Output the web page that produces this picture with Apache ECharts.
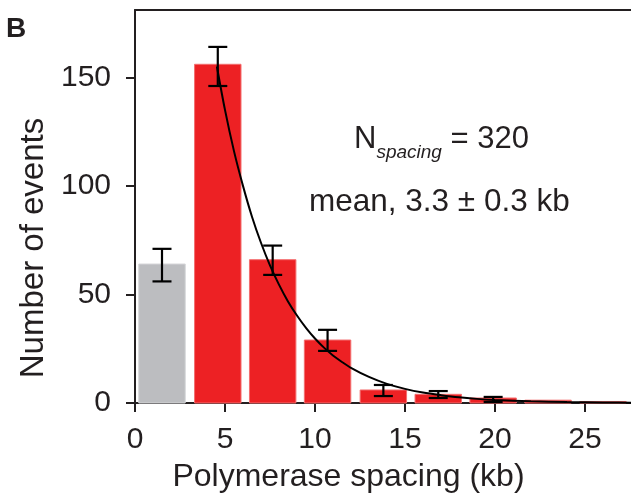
<!DOCTYPE html>
<html>
<head>
<meta charset="utf-8">
<script src="https://cdn.jsdelivr.net/npm/echarts@6/dist/echarts.min.js"></script>
<style>
  html, body { margin: 0; padding: 0; background: #fff; }
  #chart { width: 631px; height: 500px; }
</style>
</head>
<body>
<div id="chart"></div>
<script>
// Histogram of polymerase spacing (kb): bin centres and event counts
const binCenters = [1.5, 4.6, 7.65, 10.7, 13.8, 16.85, 19.9, 22.95, 26.0];
const counts     = [64, 156, 66, 29, 6, 4, 2.3, 1.3, 0.7];
// first bin is shown in grey (excluded from the fit)
const binIsFitted = [false, true, true, true, true, true, true, true, true];

// Error bars (low / high) for the first seven bins
const errCenters = [1.5, 4.6, 7.65, 10.7, 13.8, 16.85, 19.9];
const errLow     = [56, 146, 59, 24, 3.2, 2.3, 0.5];
const errHigh    = [71, 164, 72.5, 33.7, 8.3, 5.5, 2.8];

// Exponential fit curve (mean 3.3 kb), sampled points
const fitX = [4.55, 5, 5.5, 6, 6.5, 7, 7.5, 8, 8.5, 9, 9.5, 10, 10.5, 11, 11.5, 12, 13, 14, 15, 16, 17, 18, 19, 20, 22, 24, 26, 28];
const fitY = [155, 135, 116, 100, 85.8, 73.8, 63.4, 54.5, 46.8, 40.3, 34.6, 29.7, 25.5, 21.9, 18.9, 16.2, 12.0, 8.8, 6.5, 4.8, 3.6, 2.6, 1.9, 1.4, 0.8, 0.43, 0.24, 0.13];

// Axis ticks
const xTicks = [0, 5, 10, 15, 20, 25];
const yTicks = [0, 50, 100, 150];

const FONT = "'Liberation Sans', Arial, Helvetica, sans-serif";
const INK = '#231F20';
const RED = '#ED2124';
const GREY = '#BCBDC0';
const BAR_W = 2.58; // bar width in kb

const chart = echarts.init(document.getElementById('chart'), null, { renderer: 'canvas' });

const barData = binCenters.map((c, i) => [c, counts[i], binIsFitted[i] ? 1 : 0]);
const errData = errCenters.map((c, i) => [c, errLow[i], errHigh[i]]);
const fitData = fitX.map((x, i) => [x, fitY[i]]);

chart.setOption({
  animation: false,
  backgroundColor: '#fff',
  grid: { left: 135, right: 0, top: 10, bottom: 97 },
  xAxis: [{
    type: 'value',
    min: 0, max: 27.56,
    position: 'bottom',
    name: 'Polymerase spacing (kb)',
    nameLocation: 'middle',
    nameGap: 58,
    nameTextStyle: { fontFamily: FONT, fontSize: 32, color: INK, padding: [0, 69, 0, 0] },
    axisLine: { show: true, lineStyle: { color: INK, width: 2 } },
    axisTick: { show: true, length: 9, lineStyle: { color: INK, width: 2 }, customValues: xTicks },
    axisLabel: { fontFamily: FONT, fontSize: 30, color: INK, margin: 22, customValues: xTicks },
    splitLine: { show: false }
  }, {
    type: 'value',
    min: 0, max: 27.56,
    position: 'top',
    axisLine: { show: true, lineStyle: { color: INK, width: 2 } },
    axisTick: { show: false },
    axisLabel: { show: false },
    splitLine: { show: false }
  }],
  yAxis: {
    type: 'value',
    min: 0, max: 181,
    offset: 2,
    name: 'Number of events',
    nameLocation: 'middle',
    nameGap: 82,
    nameRotate: 90,
    nameTextStyle: { fontFamily: FONT, fontSize: 33, color: INK, padding: [0, 83, 0, 0] },
    axisLine: { show: true, lineStyle: { color: INK, width: 2 } },
    axisTick: { show: true, length: 9, lineStyle: { color: INK, width: 2 }, customValues: yTicks },
    axisLabel: { fontFamily: FONT, fontSize: 30, color: INK, margin: 22, customValues: yTicks },
    splitLine: { show: false }
  },
  series: [{
    type: 'custom',
    name: 'counts',
    data: barData,
    z: 2,
    renderItem(params, api) {
      const c = api.value(0), v = api.value(1), fitted = api.value(2);
      const p0 = api.coord([c - BAR_W / 2, v]);
      const p1 = api.coord([c + BAR_W / 2, 0]);
      return {
        type: 'rect',
        shape: { x: p0[0], y: p0[1], width: p1[0] - p0[0], height: p1[1] - p0[1] },
        style: {
          fill: fitted ? RED : GREY,
          stroke: fitted ? '#F36E6F' : '#D4D5D7',
          lineWidth: 1
        }
      };
    }
  }, {
    type: 'line',
    name: 'fit',
    data: fitData,
    smooth: 0.3,
    showSymbol: false,
    z: 3,
    lineStyle: { color: '#000', width: 2 }
  }, {
    type: 'custom',
    name: 'error',
    data: errData,
    z: 4,
    renderItem(params, api) {
      const c = api.value(0);
      const lo = api.coord([c, api.value(1)]);
      const hi = api.coord([c, api.value(2)]);
      const cap = 9.5;
      const st = { stroke: '#000', lineWidth: 2.2 };
      return {
        type: 'group',
        children: [
          { type: 'line', shape: { x1: lo[0], y1: lo[1], x2: hi[0], y2: hi[1] }, style: st },
          { type: 'line', shape: { x1: lo[0] - cap, y1: lo[1], x2: lo[0] + cap, y2: lo[1] }, style: st },
          { type: 'line', shape: { x1: hi[0] - cap, y1: hi[1], x2: hi[0] + cap, y2: hi[1] }, style: st }
        ]
      };
    }
  }],
  graphic: [{
    type: 'text',
    left: 6, top: 15,
    style: { text: 'B', fontFamily: FONT, fontSize: 28, fontWeight: 'bold', fill: INK }
  }, {
    type: 'text',
    left: 354, top: 124,
    style: {
      text: '{n|N}{s|spacing}{n| = 320}',
      fontFamily: FONT,
      rich: {
        n: { fontFamily: FONT, fontSize: 31, fill: INK, lineHeight: 36, verticalAlign: 'bottom' },
        s: { fontFamily: FONT, fontSize: 19, fontStyle: 'italic', fill: INK, lineHeight: 22, verticalAlign: 'bottom', padding: [0, 0, -7, 0] }
      }
    }
  }, {
    type: 'text',
    left: 309, top: 186,
    style: { text: 'mean, 3.3 \u00b1 0.3 kb', fontFamily: FONT, fontSize: 31.5, fill: INK }
  }]
});
</script>
</body>
</html>
